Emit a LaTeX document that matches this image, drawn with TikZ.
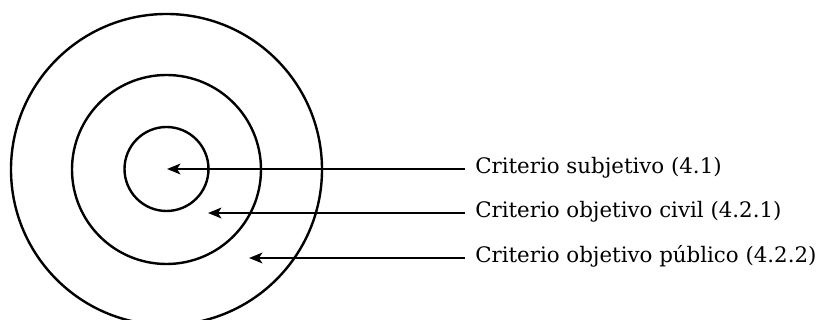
\documentclass[tikz,border=0pt]{standalone}
\usepackage{fontspec}
\setmainfont{DejaVu Serif}
\usetikzlibrary{arrows.meta}
\begin{document}
\begin{tikzpicture}[x=0.75pt,y=-0.75pt,
  ring/.style={draw,circle,line width=1.8pt,inner sep=0pt},
  lbl/.style={anchor=west,inner xsep=7.5pt,inner ysep=0pt,font=\fontsize{16}{19}\selectfont,text height=1em,text depth=0.25em},
  pointer/.style={line width=1.8pt,-{Stealth[length=10pt,width=8pt,inset=2.5pt]}}]
\useasboundingbox (0,0) rectangle (818,320);
\node[ring,minimum size=311*0.75pt] (outer) at (166.5,169.5) {};
\node[ring,minimum size=189*0.75pt] (middle) at (166.5,169.5) {};
\node[ring,minimum size=84*0.75pt] (inner) at (166.5,169) {};
\node[lbl] (t1) at (465,169) {Criterio subjetivo (4.1)};
\node[lbl] (t2) at (465,213) {Criterio objetivo civil (4.2.1)};
\node[lbl] (t3) at (465,258) {Criterio objetivo público (4.2.2)};
\coordinate (p1) at (167,169);
\coordinate (p2) at (208,213);
\coordinate (p3) at (249,258);
\draw[pointer] (t1.west) -- (p1);
\draw[pointer] (t2.west) -- (p2);
\draw[pointer] (t3.west) -- (p3);
\end{tikzpicture}
\end{document}
